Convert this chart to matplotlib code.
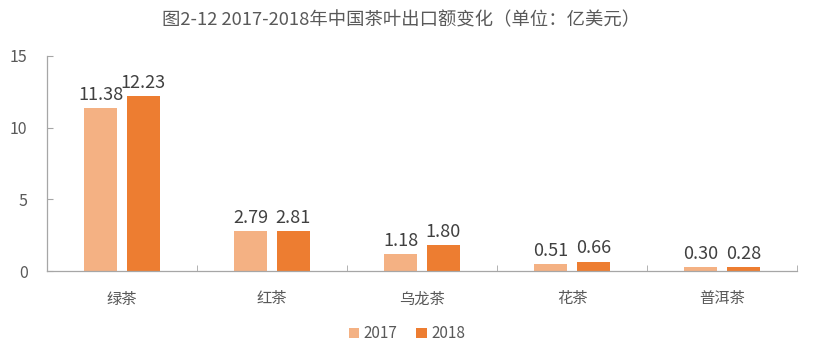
import matplotlib

matplotlib.use("Agg")
import matplotlib.pyplot as plt
import numpy as np

plt.rcParams["font.family"] = ["Noto Sans CJK SC", "DejaVu Sans"]

CATEGORIES = ["绿茶", "红茶", "乌龙茶", "花茶", "普洱茶"]
VALUES_2017 = [11.38, 2.79, 1.18, 0.51, 0.30]
VALUES_2018 = [12.23, 2.81, 1.80, 0.66, 0.28]
SERIES = ["2017", "2018"]
Y_TICKS = [0, 5, 10, 15]
TITLE = "图2-12 2017-2018年中国茶叶出口额变化（单位：亿美元）"

COLORS = ["#F4B183", "#ED7D31"]
TEXT = "#595959"
AXIS = "#A6A6A6"


def main() -> None:
    fig = plt.figure(figsize=(8.14, 3.52), dpi=100)
    ax = fig.add_axes([0.0577, 0.230, 0.9215, 0.611])

    x = np.arange(len(CATEGORIES))
    width = 0.22
    offset = 0.143
    for vals, name, color, sign in zip((VALUES_2017, VALUES_2018), SERIES, COLORS, (-1, 1)):
        bars = ax.bar(x + sign * offset, vals, width, color=color, label=name)
        ax.bar_label(bars, labels=[f"{v:.2f}" for v in vals], padding=3,
                     fontsize=13, color="#404040")

    ax.set_xlim(-0.5, len(CATEGORIES) - 0.5)
    ax.set_ylim(0, 15)
    ax.set_yticks(Y_TICKS)
    ax.set_xticks(x)
    ax.set_xticklabels(CATEGORIES)
    ax.set_xticks(np.arange(len(CATEGORIES) + 1) - 0.5, minor=True)
    ax.tick_params(axis="x", which="major", length=0, pad=14, labelsize=11, labelcolor=TEXT)
    ax.tick_params(axis="x", which="minor", direction="in", length=4, color=AXIS)
    ax.tick_params(axis="y", direction="in", length=4, color=AXIS, labelsize=11.5,
                   labelcolor=TEXT, pad=14)

    for side in ("top", "right"):
        ax.spines[side].set_visible(False)
    for side in ("left", "bottom"):
        ax.spines[side].set_color(AXIS)
        ax.spines[side].set_linewidth(0.9)

    fig.text(0.493, 0.943, TITLE, ha="center", va="center", fontsize=13.2, color=TEXT)

    fig.legend(loc="center", bbox_to_anchor=(0.5, 0.052), ncol=2, frameon=False,
               fontsize=11, labelcolor=TEXT, handlelength=0.7, handleheight=0.7,
               handletextpad=0.3, columnspacing=1.2)

    fig.savefig("out.png", dpi=100)
    plt.close(fig)


if __name__ == "__main__":
    main()
